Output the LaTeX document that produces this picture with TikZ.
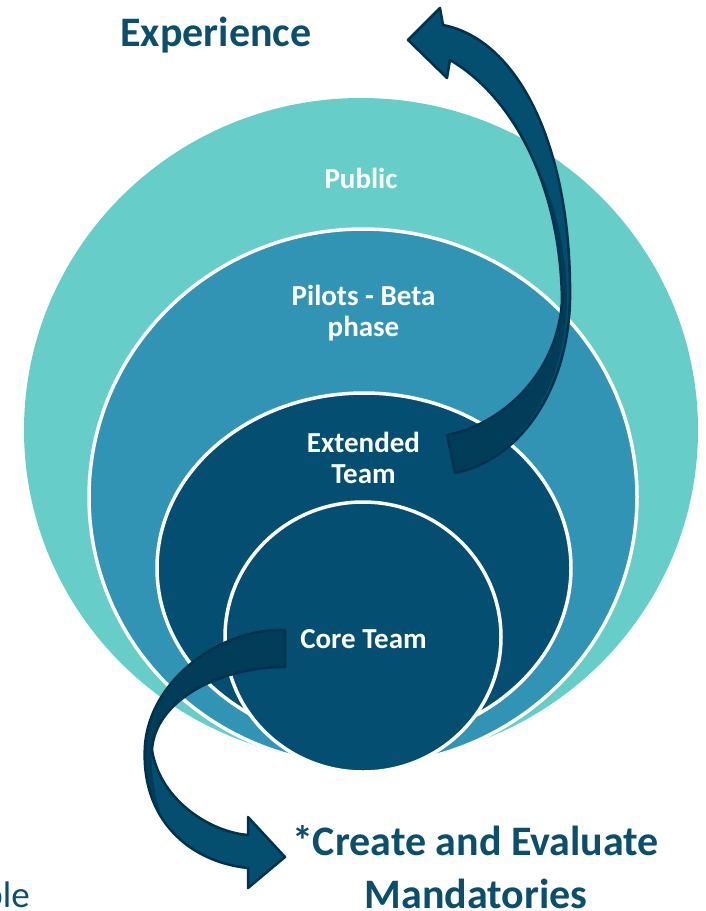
\documentclass[tikz,border=0pt]{standalone}
\usepackage{fontspec}
\setmainfont{Carlito}
\definecolor{publiccol}{RGB}{102,205,200}
\definecolor{pilotcol}{RGB}{49,148,180}
\definecolor{corecol}{RGB}{4,78,113}
\definecolor{arrowmain}{RGB}{4,78,112}
\definecolor{arrowdark}{RGB}{1,60,89}
\definecolor{arrowline}{RGB}{0,50,77}
\definecolor{txtcol}{RGB}{11,79,108}
\begin{document}
\begin{tikzpicture}[x=1pt,y=-1pt,
  ring/.style={draw=white, line width=3.5pt},
  lbl/.style={text=white, font=\fontsize{29}{31.5}\selectfont\bfseries, anchor=base, inner sep=0pt},
  big/.style={text=txtcol, font=\fontsize{42}{53}\selectfont\bfseries, anchor=base, inner sep=0pt},
  arrowbody/.style={fill=arrowmain},
  arrowshade/.style={fill=arrowdark},
  arrowedge/.style={draw=arrowline, line width=2.5pt, line join=round}]
\useasboundingbox (0,0) rectangle (706,911);
% nested circles
\fill[publiccol] (361,430) ellipse [x radius=337pt, y radius=332pt];
\path[ring, fill=pilotcol] (363,497) ellipse [x radius=274pt, y radius=268pt];
\path[ring, fill=corecol] (364,568) ellipse [x radius=207pt, y radius=175pt];
\path[ring, fill=corecol] (363,637) ellipse [x radius=138pt, y radius=135pt];
% labels
\node[lbl] (public) at (361,188) {Public};
\node[lbl] (pilotsA) at (363.5,305) {Pilots - Beta};
\node[lbl] (pilotsB) at (363.5,336) {phase};
\node[lbl] (extA) at (363.5,452) {Extended};
\node[lbl] (extB) at (363.5,483) {Team};
\node[lbl] (core) at (363.5,648) {Core Team};
% arrow up to Experience
\fill[arrowbody] (447,435) .. controls (500,425) and (558,375) .. (562,300)
  .. controls (560,180) and (510,95) .. (450,60)
  -- (447,78) -- (408,40) -- (440,8) -- (443,25)
  .. controls (520,40) and (572,150) .. (570,300)
  .. controls (568,390) and (520,460) .. (455,473) -- cycle;
\fill[arrowshade] (447,435) .. controls (500,425) and (558,375) .. (562,300)
  .. controls (561,240) and (548,188.75) .. (527.75,148.1)
  .. controls (552,190) and (566,240) .. (567,300)
  .. controls (565,390) and (518,458) .. (455,473) -- cycle;
\draw[arrowedge] (447,435) .. controls (500,425) and (558,375) .. (562,300)
  .. controls (560,180) and (510,95) .. (450,60)
  -- (447,78) -- (408,40) -- (440,8) -- (443,25)
  .. controls (520,40) and (572,150) .. (570,300)
  .. controls (568,390) and (520,460) .. (455,473) -- cycle;
% arrow down to Mandatories
\fill[arrowbody] (285,630) .. controls (220,628) and (150,680) .. (145,745)
  .. controls (140,820) and (190,862) .. (248,868)
  -- (248,888) -- (285,857) -- (248,817) -- (248,835)
  .. controls (210,832) and (160,800) .. (152,750)
  .. controls (155,700) and (220,667) .. (285,667) -- cycle;
\fill[arrowshade] (285,630) .. controls (220,628) and (150,680) .. (145,745)
  -- (152,750) .. controls (155,700) and (220,667) .. (285,667) -- cycle;
\fill[arrowshade] (145,745) .. controls (143,775) and (150,795) .. (160,812)
  .. controls (155,795) and (150,770) .. (152,750) -- cycle;
\draw[arrowedge] (285,630) .. controls (220,628) and (150,680) .. (145,745)
  .. controls (140,820) and (190,862) .. (248,868)
  -- (248,888) -- (285,857) -- (248,817) -- (248,835)
  .. controls (210,832) and (160,800) .. (152,750)
  .. controls (155,700) and (220,667) .. (285,667) -- cycle;
% outer texts
\node[big] (exp) at (216,46) {Experience};
\node[big] (mandA) at (475.5,855) {*Create and Evaluate};
\node[big] (mandB) at (476,908) {Mandatories};
\node[text=txtcol, font=\fontsize{37}{44}\selectfont, anchor=base east, inner sep=0pt] (ble) at (30,907) {ble};
\end{tikzpicture}
\end{document}
